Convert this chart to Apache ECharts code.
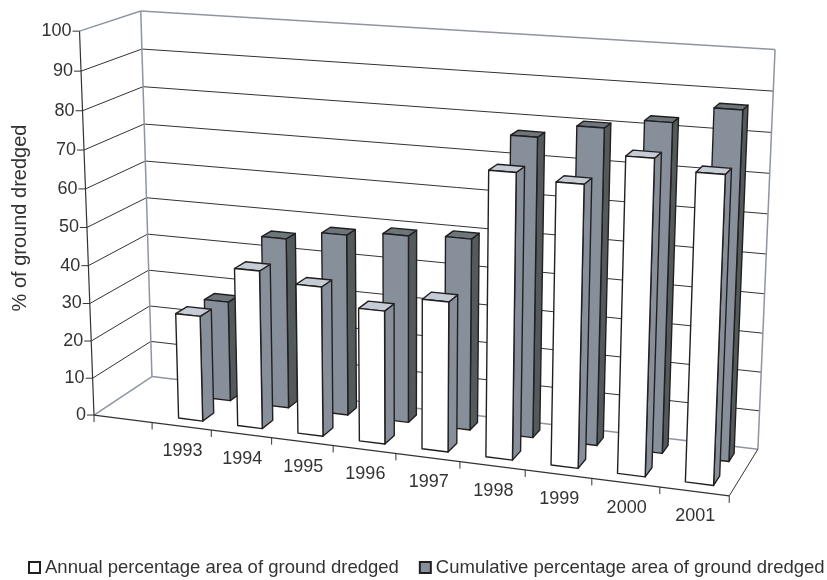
<!DOCTYPE html>
<html>
<head>
<meta charset="utf-8">
<style>
  html, body { margin: 0; padding: 0; background: #fff; }
  #chart { width: 827px; height: 580px; }
</style>
<script src="https://cdn.jsdelivr.net/npm/echarts@6/dist/echarts.min.js"></script>
</head>
<body>
<div id="chart"></div>
<script>
// data (first category is an empty slot on the axis)
const categories = ['', '1993', '1994', '1995', '1996', '1997', '1998', '1999', '2000', '2001'];
const annual = [null, 28, 41.5, 39, 34.5, 38.5, 72, 70.5, 78, 75.5];
const cumulative = [null, 27, 45.5, 48, 49.3, 50, 77, 80.5, 83, 87.2];
const yTicks = [0, 10, 20, 30, 40, 50, 60, 70, 80, 90, 100];
const annualName = 'Annual percentage area of ground dredged';
const cumulativeName = 'Cumulative percentage area of ground dredged';

const FONT = '"Liberation Sans", Arial, sans-serif';
const TEXT = '#333333';
const EDGE = '#231f20';
const WALL = '#8d96a0';

// 1. fit the camera of the 3D box: [u, v, z] -> measured pixel
const anchors = [
    [0, 0, 0, 94.3, 415], [1, 0, 0, 729.3, 496], [0, 0, 1, 151.7, 376.7], [1, 0, 1, 758, 449],
    [0, 1, 0, 79.3, 31], [0, 1, 1, 141, 11], [1, 1, 1, 775, 49.5],
    [0, .5, 0, 87, 227.7], [0, .5, 1, 146.4, 197.7], [.5, 0, 0, 395.7, 453.3]
];
const fitCamera = (points) => {
    const rows = [];
    points.forEach(([u, v, z, sx, sy]) => {
        const x = sx / 800, y = sy / 800;
        rows.push([u, v, z, 1, 0, 0, 0, 0, -u * x, -v * x, -z * x, x]);
        rows.push([0, 0, 0, 0, u, v, z, 1, -u * y, -v * y, -z * y, y]);
    });
    const n = 11;
    const m = [];
    for (let i = 0; i < n; i++) {
        m.push([]);
        for (let j = 0; j <= n; j++) {
            m[i].push(rows.reduce((sum, r) => sum + r[i] * r[j], 0));
        }
    }
    for (let i = 0; i < n; i++) {
        let best = i;
        for (let k = i + 1; k < n; k++) if (Math.abs(m[k][i]) > Math.abs(m[best][i])) best = k;
        [m[i], m[best]] = [m[best], m[i]];
        for (let k = 0; k < n; k++) {
            if (k === i) continue;
            const f = m[k][i] / m[i][i];
            for (let j = i; j <= n; j++) m[k][j] -= f * m[i][j];
        }
    }
    return m.map((row, i) => row[n] / row[i]);
};
const cam = fitCamera(anchors);
const project = (u, v, z) => {
    const w = cam[8] * u + cam[9] * v + cam[10] * z + 1;
    return [
        800 * (cam[0] * u + cam[1] * v + cam[2] * z + cam[3]) / w,
        800 * (cam[4] * u + cam[5] * v + cam[6] * z + cam[7]) / w
    ];
};

// 2. hidden cartesian scales -> unit box coordinates
const toUnit = (params, pt) => {
    const g = params.coordSys;
    return [(pt[0] - g.x) / g.width, 1 - (pt[1] - g.y) / g.height];
};
const line = (a, b, stroke, lineWidth) => ({
    type: 'line',
    shape: { x1: a[0], y1: a[1], x2: b[0], y2: b[1] },
    style: { stroke, lineWidth }
});
const label = (pos, text, align) => ({
    type: 'text',
    x: pos[0],
    y: pos[1],
    style: { text, fill: TEXT, font: '18px ' + FONT, align, verticalAlign: 'middle' }
});

// 3. walls, grid lines and value ticks
const renderYTick = (params, api) => {
    const v = toUnit(params, api.coord([0, api.value(1)]))[1];
    const isEnd = api.value(1) === 0 || api.value(1) === 100;
    const front = project(0, v, 0), back = project(0, v, 1), right = project(1, v, 1);
    return {
        type: 'group',
        children: [
            line(front, back, isEnd ? WALL : '#333', isEnd ? 1.5 : 1),
            line(back, right, isEnd ? WALL : '#333', isEnd ? 1.5 : 1),
            line([front[0] - 7, front[1]], front, '#333', 1),
            label([front[0] - 8, front[1]], String(api.value(1)), 'right')
        ]
    };
};
const renderFrame = () => ({
    type: 'group',
    children: [
        line(project(0, 0, 0), project(0, 1, 0), '#333', 1.2),
        line(project(0, 0, 1), project(0, 1, 1), WALL, 1.5),
        line(project(1, 0, 1), project(1, 1, 1), WALL, 1.5),
        line(project(0, 0, 0), project(1, 0, 0), '#333', 1.2),
        line(project(1, 0, 0), project(1, 0, 1), '#333', 1)
    ]
});

// 4. category ticks and labels on the front floor edge
const renderXTick = (params, api) => {
    const g = params.coordSys;
    const c = toUnit(params, api.coord([api.value(0), 0]))[0];
    const half = api.size([1, 0])[0] / 2 / g.width;
    const left = project(c - half, 0, 0);
    const right = project(c + half, 0, 0);
    const mid = project(c, 0, 0);
    const children = [line(right, [right[0], right[1] + 7], '#333', 1)];
    if (api.value(0) === 0) children.push(line(left, [left[0], left[1] + 7], '#333', 1));
    const name = categories[api.value(0)];
    if (name) children.push(label([mid[0] + 1, mid[1] + 25], name, 'center'));
    return { type: 'group', children };
};

// 5. one 3D bar per value
const barRenderer = (z0, z1, faces) => (params, api) => {
    const g = params.coordSys;
    const pt = toUnit(params, api.coord([api.value(0), api.value(1)]));
    const half = api.size([1, 0])[0] * 0.205 / g.width;
    const u0 = pt[0] - half, u1 = pt[0] + half, v = pt[1];
    const face = (points, fill) => ({
        type: 'polygon',
        shape: { points },
        style: { fill, stroke: EDGE, lineWidth: 1.4, lineJoin: 'round' }
    });
    return {
        type: 'group',
        children: [
            face([project(u1, 0, z0), project(u1, 0, z1), project(u1, v, z1), project(u1, v, z0)], faces.side),
            face([project(u0, v, z0), project(u1, v, z0), project(u1, v, z1), project(u0, v, z1)], faces.top),
            face([project(u0, 0, z0), project(u1, 0, z0), project(u1, v, z0), project(u0, v, z0)], faces.front)
        ]
    };
};
const toSeriesData = (values) => values
    .map((value, i) => [i, value])
    .filter((item) => item[1] !== null);

const custom = {
    type: 'custom',
    coordinateSystem: 'cartesian2d',
    silent: true,
    animation: false,
    clip: false
};

const option = {
    animation: false,
    backgroundColor: '#fff',
    grid: { left: 0, right: 0, top: 0, bottom: 0 },
    xAxis: { type: 'category', data: categories, show: false },
    yAxis: { type: 'value', min: 0, max: 100, show: false },
    legend: {
        left: 23,
        top: 553,
        width: 804,
        padding: [5, 0, 5, 5],
        itemWidth: 11,
        itemHeight: 11,
        itemGap: 20,
        icon: 'rect',
        selectedMode: false,
        data: [annualName, cumulativeName],
        textStyle: { fontFamily: 'Liberation Sans', fontSize: 18.5, color: TEXT, padding: [0, 0, 0, 0] }
    },
    graphic: [{
        type: 'text',
        x: 20,
        y: 218,
        rotation: Math.PI / 2,
        style: {
            text: '% of ground dredged',
            fill: TEXT,
            font: '20px ' + FONT,
            align: 'center',
            verticalAlign: 'middle'
        }
    }],
    series: [
        { ...custom, name: 'grid lines', data: yTicks.map((v) => [0, v]), renderItem: renderYTick },
        { ...custom, name: 'frame', data: [[0, 0]], renderItem: renderFrame },
        { ...custom, name: 'x ticks', data: categories.map((c, i) => [i, 0]), renderItem: renderXTick },
        {
            ...custom,
            name: cumulativeName,
            itemStyle: { color: '#87909a', borderColor: EDGE, borderWidth: 1 },
            data: toSeriesData(cumulative),
            renderItem: barRenderer(0.67, 0.85, { front: '#87909a', side: '#525a5c', top: '#6d767b' })
        },
        {
            ...custom,
            name: annualName,
            itemStyle: { color: '#ffffff', borderColor: EDGE, borderWidth: 1 },
            data: toSeriesData(annual),
            renderItem: barRenderer(0.16, 0.36, { front: '#ffffff', side: '#87909a', top: '#c5ccd5' })
        }
    ]
};

const myEcharts = echarts.init(document.getElementById('chart'), null, { renderer: 'canvas' });
myEcharts.setOption(option);
</script>
</body>
</html>
